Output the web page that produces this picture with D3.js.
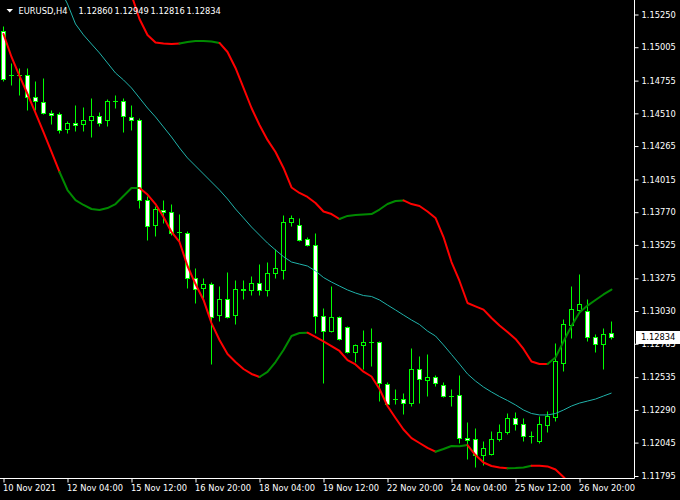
<!DOCTYPE html>
<html><head><meta charset="utf-8">
<script src="https://cdn.jsdelivr.net/npm/d3@7"></script>
<style>html,body{margin:0;padding:0;background:#000;overflow:hidden}svg{display:block}</style>
</head><body><svg id="c" width="680" height="500"></svg>
<script>
// ---------------- data ----------------
const symbol = "EURUSD,H4";
const lastBar = {open: 1.12860, high: 1.12949, low: 1.12816, close: 1.12834};
const dateTickIdx = [0, 8, 16, 24, 32, 40, 48, 56, 64, 72];
const dateLabels = ["10 Nov 2021", "12 Nov 04:00", "15 Nov 12:00", "16 Nov 20:00", "18 Nov 04:00",
  "19 Nov 12:00", "22 Nov 20:00", "24 Nov 04:00", "25 Nov 12:00", "26 Nov 20:00"];
const priceTicks = [1.15250, 1.15005, 1.14755, 1.14510, 1.14265, 1.14015, 1.13770, 1.13525,
  1.13275, 1.13030, 1.12785, 1.12535, 1.12290, 1.12045, 1.11795];

const open = [1.15121,1.14790,1.14797,1.14797,1.14630,1.14593,1.14510,1.14503,1.14391,1.14436,
  1.14428,1.14458,1.14488,1.14458,1.14602,1.14602,1.14480,1.14460,1.13854,1.13669,
  1.13786,1.13769,1.13616,1.13612,1.13275,1.13200,1.13225,1.12993,1.13118,1.12993,
  1.13188,1.13182,1.13238,1.13180,1.13313,1.13337,1.13694,1.13674,1.13567,1.13524,
  1.12988,1.12875,1.12983,1.12908,1.12718,1.12773,1.12796,1.12793,1.12482,1.12369,
  1.12369,1.12339,1.12589,1.12508,1.12534,1.12474,1.12389,1.12394,1.12077,1.12065,
  1.11945,1.11957,1.12065,1.12119,1.12227,1.12184,1.12089,1.12052,1.12172,1.12234,
  1.12639,1.12920,1.13033,1.13030,1.12830,1.12776,1.12860];
const high = [1.15157,1.14885,1.14847,1.14847,1.14752,1.14772,1.14528,1.14518,1.14448,1.14565,
  1.14555,1.14623,1.14518,1.14610,1.14640,1.14623,1.14565,1.14475,1.13886,1.13816,
  1.13861,1.13824,1.13749,1.13624,1.13350,1.13275,1.13240,1.13212,1.13320,1.13262,
  1.13262,1.13287,1.13380,1.13395,1.13487,1.13742,1.13742,1.13724,1.13582,1.13607,
  1.13050,1.13217,1.12988,1.12913,1.12783,1.12881,1.12901,1.12800,1.12496,1.12439,
  1.12409,1.12751,1.12693,1.12708,1.12551,1.12496,1.12446,1.12551,1.12197,1.12154,
  1.12052,1.12127,1.12177,1.12264,1.12269,1.12227,1.12127,1.12244,1.12276,1.12788,
  1.12970,1.13212,1.13307,1.13118,1.12851,1.12901,1.12949];
const low = [1.14745,1.14722,1.14640,1.14535,1.14535,1.14498,1.14423,1.14361,1.14361,1.14373,
  1.14373,1.14328,1.14410,1.14410,1.14543,1.14368,1.14385,1.13799,1.13557,1.13587,
  1.13687,1.13599,1.13537,1.13200,1.13088,1.13125,1.12626,1.12950,1.12976,1.12931,
  1.13113,1.13150,1.13150,1.13137,1.13275,1.13268,1.13661,1.13549,1.13512,1.12863,
  1.12491,1.12868,1.12813,1.12714,1.12643,1.12589,1.12613,1.12351,1.12327,1.12327,
  1.12257,1.12314,1.12339,1.12389,1.12464,1.12384,1.12319,1.12040,1.11915,1.11855,
  1.11877,1.11945,1.12052,1.12109,1.12139,1.12052,1.12040,1.12040,1.12119,1.12202,
  1.12576,1.12821,1.13013,1.12800,1.12721,1.12589,1.12816];
const close = [1.14765,1.14790,1.14797,1.14630,1.14597,1.14510,1.14492,1.14383,1.14436,1.14418,
  1.14460,1.14488,1.14436,1.14602,1.14600,1.14485,1.14458,1.13854,1.13661,1.13792,
  1.13769,1.13612,1.13616,1.13275,1.13193,1.13230,1.12983,1.13118,1.12983,1.13188,
  1.13187,1.13238,1.13180,1.13313,1.13345,1.13694,1.13724,1.13557,1.13519,1.12988,
  1.12875,1.12983,1.12818,1.12721,1.12773,1.12793,1.12796,1.12484,1.12334,1.12369,
  1.12339,1.12589,1.12519,1.12534,1.12489,1.12389,1.12388,1.12077,1.12062,1.11948,
  1.12002,1.12070,1.12122,1.12227,1.12182,1.12089,1.12089,1.12177,1.12239,1.12651,
  1.12931,1.13038,1.13080,1.12830,1.12781,1.12858,1.12834];

const midLine = [null,null,null,null,null,null,1.15560,1.15448,1.15329,1.15179,
  1.15097,1.15029,1.14962,1.14887,1.14812,1.14760,1.14700,1.14625,1.14550,1.14483,
  1.14408,1.14333,1.14251,1.14176,1.14116,1.14056,1.13996,1.13936,1.13869,1.13794,
  1.13727,1.13659,1.13599,1.13539,1.13487,1.13437,1.13397,1.13382,1.13367,1.13330,
  1.13281,1.13247,1.13217,1.13188,1.13165,1.13146,1.13139,1.13113,1.13075,1.13038,
  1.13000,1.12963,1.12929,1.12880,1.12843,1.12776,1.12705,1.12633,1.12559,1.12506,
  1.12461,1.12424,1.12390,1.12360,1.12327,1.12289,1.12263,1.12252,1.12252,1.12263,
  1.12289,1.12319,1.12341,1.12356,1.12371,1.12394,1.12416];
const upperBand = [null,null,null,null,null,null,null,null,null,null,
  null,null,null,null,null,1.15546,1.15396,1.15216,1.15097,1.15040,
  1.15033,1.15029,1.15033,1.15044,1.15052,1.15052,1.15048,1.15037,1.14969,1.14850,
  1.14700,1.14550,1.14423,1.14311,1.14221,1.14101,1.13955,1.13914,1.13884,1.13839,
  1.13775,1.13756,1.13719,1.13742,1.13749,1.13752,1.13756,1.13790,1.13831,1.13854,
  1.13858,1.13831,1.13816,1.13775,1.13727,1.13584,1.13397,1.13255,1.13090,1.13065,
  1.13041,1.12978,1.12922,1.12873,1.12821,1.12746,1.12652,1.12633,1.12633,1.12682,
  1.12802,1.12918,1.13019,1.13071,1.13113,1.13154,1.13191];
const lowerBand = [1.15104,1.14932,1.14790,1.14655,1.14513,1.14370,1.14221,1.14071,1.13936,1.13861,
  1.13824,1.13794,1.13786,1.13801,1.13831,1.13891,1.13951,1.13951,1.13902,1.13831,
  1.13734,1.13622,1.13547,1.13367,1.13232,1.13113,1.12940,1.12813,1.12708,1.12648,
  1.12596,1.12559,1.12536,1.12574,1.12648,1.12738,1.12843,1.12866,1.12868,1.12836,
  1.12802,1.12768,1.12731,1.12663,1.12630,1.12576,1.12540,1.12446,1.12319,1.12229,
  1.12143,1.12079,1.12042,1.12005,1.11977,1.11997,1.12020,1.12017,1.12027,1.11952,
  1.11896,1.11870,1.11859,1.11853,1.11855,1.11859,1.11872,1.11871,1.11867,1.11844,
  1.11787,1.11728,1.11675,1.11630,1.11593,1.11555,1.11525];
// trend state of each band segment ending at bar i: r = falling (red), g = rising (green)
const upperTrend = ("-".repeat(16) + "r".repeat(7) + "g".repeat(5) + "r".repeat(15) +
  "g".repeat(8) + "r".repeat(18) + "g".repeat(8)).split("");
const lowerTrend = ("-" + "r".repeat(7) + "g".repeat(10) + "r".repeat(15) + "g".repeat(6) +
  "r".repeat(16) + "g".repeat(4) + "r".repeat(5) + "g".repeat(3) + "r".repeat(10)).split("");

// ---------------- drawing ----------------
const W = 680, H = 500, plotR = 634, plotB = 478;
const FONT = "DejaVu Sans", FS = "8.3px";
const LIME = "#00ff00", RED = "#ff0000", DGREEN = "#008a00", CYAN = "#20b2aa";
const svg = d3.select("#c");
svg.append("rect").attr("width", W).attr("height", H).attr("fill", "#000");

const x = d3.scaleLinear().domain([0, 76]).range([3.5, 611.5]);
const y = d3.scaleLinear().domain([1.11795, 1.15250]).range([476, 14.5]);
const py = v => Math.round(y(v) - 0.5) + 0.5;

svg.append("clipPath").attr("id", "clip").append("rect")
  .attr("x", 0).attr("y", 0).attr("width", plotR).attr("height", plotB);
const plot = svg.append("g").attr("clip-path", "url(#clip)");

// candles
const idx = d3.range(open.length);
const cg = plot.append("g");
idx.forEach(i => {
  const cx = x(i);
  cg.append("line").attr("x1", cx).attr("x2", cx)
    .attr("y1", py(high[i])).attr("y2", py(low[i]))
    .attr("stroke", LIME).attr("stroke-width", 1);
  const top = py(Math.max(open[i], close[i])), bot = py(Math.min(open[i], close[i]));
  if (bot - top < 1) {
    cg.append("line").attr("x1", cx - 2.5).attr("x2", cx + 2.5)
      .attr("y1", top).attr("y2", top).attr("stroke", LIME).attr("stroke-width", 1);
  } else {
    cg.append("rect").attr("x", cx - 2).attr("y", top).attr("width", 4).attr("height", bot - top)
      .attr("fill", close[i] < open[i] ? "#fff" : "#000")
      .attr("stroke", LIME).attr("stroke-width", 1);
  }
});

// middle line
plot.append("path")
  .attr("d", d3.line().defined(i => midLine[i] != null).x(i => x(i)).y(i => y(midLine[i]))(idx))
  .attr("fill", "none").attr("stroke", CYAN).attr("stroke-width", 1);

// bands
function drawBand(vals, trend) {
  const g = plot.append("g");
  let i = 1;
  while (i < vals.length) {
    if (trend[i] === "-" || vals[i] == null || vals[i - 1] == null) { i++; continue; }
    const c = trend[i];
    let j = i;
    while (j + 1 < vals.length && trend[j + 1] === c) j++;
    const pts = d3.range(i - 1, j + 1);
    g.append("path").attr("d", d3.line().x(k => x(k)).y(k => y(vals[k]))(pts))
      .attr("fill", "none").attr("stroke", c === "r" ? RED : DGREEN)
      .attr("stroke-width", 2).attr("stroke-linejoin", "round").attr("stroke-linecap", "round");
    i = j + 1;
  }
}
drawBand(upperBand, upperTrend);
drawBand(lowerBand, lowerTrend);

// frame
svg.append("line").attr("x1", plotR + 0.5).attr("x2", plotR + 0.5).attr("y1", 0).attr("y2", plotB + 0.5)
  .attr("stroke", "#fff");
svg.append("line").attr("x1", 0).attr("x2", plotR + 0.5).attr("y1", plotB + 0.5).attr("y2", plotB + 0.5)
  .attr("stroke", "#fff");

// price axis
const ya = svg.append("g").attr("transform", `translate(${plotR + 0.5},0)`)
  .call(d3.axisRight(y).tickValues(priceTicks).tickFormat(d3.format(".5f")).tickSize(4).tickPadding(3));
ya.select(".domain").remove();
ya.selectAll("line").attr("stroke", "#fff");
ya.selectAll("text").attr("fill", "#fff").attr("font-family", FONT).attr("font-size", FS);

// time axis
const xa = svg.append("g").attr("transform", `translate(0,${plotB + 0.5})`)
  .call(d3.axisBottom(x).tickValues(dateTickIdx)
    .tickFormat(d => dateLabels[dateTickIdx.indexOf(d)]).tickSize(4).tickPadding(3));
xa.select(".domain").remove();
xa.selectAll("line").attr("stroke", "#fff");
xa.selectAll("text").attr("fill", "#fff").attr("font-family", FONT).attr("font-size", FS)
  .attr("text-anchor", "start").attr("dx", -1);

// current price label
const cy = y(lastBar.close);
svg.append("rect").attr("x", 636).attr("y", Math.round(cy) - 6).attr("width", 44).attr("height", 13).attr("fill", "#fff");
svg.append("text").attr("x", 641).attr("y", cy).attr("dy", "0.35em").attr("fill", "#000")
  .attr("font-family", FONT).attr("font-size", FS).text(d3.format(".5f")(lastBar.close));

// title
svg.append("path").attr("d", "M6.5,9 L13,9 L9.75,12.5 Z").attr("fill", "#fff");
const t = svg.append("text").attr("y", 14.3).attr("fill", "#fff").attr("font-family", FONT).attr("font-size", FS);
t.append("tspan").attr("x", 18.5).text(symbol);
[lastBar.open, lastBar.high, lastBar.low, lastBar.close].forEach((v, k) => {
  t.append("tspan").attr("x", 78.5 + 36 * k).text(d3.format(".5f")(v));
});
</script></body></html>
